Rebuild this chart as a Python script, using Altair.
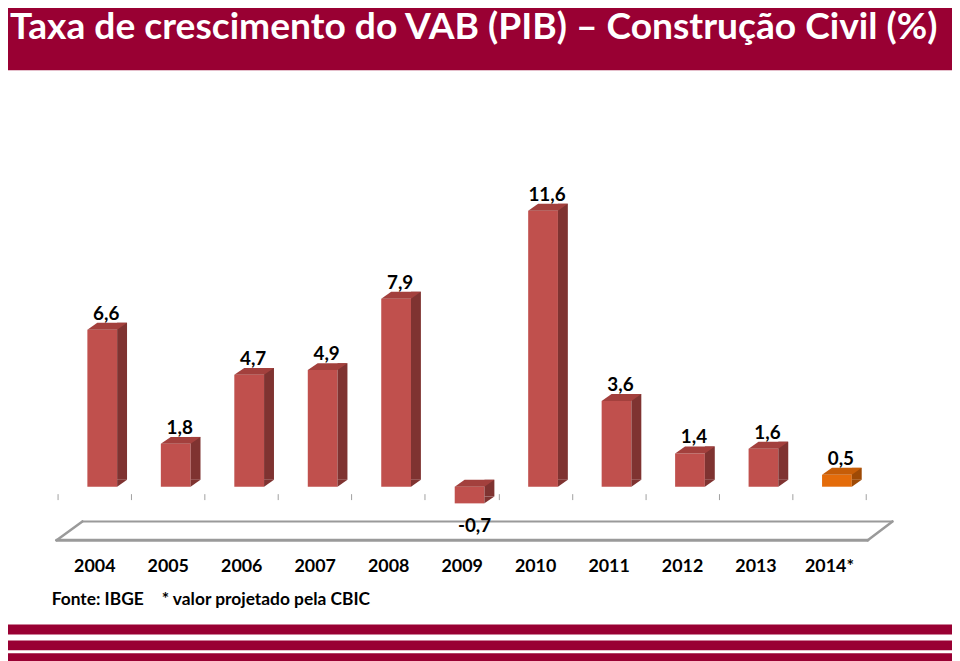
import altair as alt
import pandas as pd

# ---------------- data ----------------
years = ["2004", "2005", "2006", "2007", "2008", "2009", "2010", "2011", "2012", "2013", "2014*"]
growth = [6.6, 1.8, 4.7, 4.9, 7.9, -0.7, 11.6, 3.6, 1.4, 1.6, 0.5]
kinds = ["real"] * 10 + ["proj"]
title_text = "Taxa de crescimento do VAB (PIB) – Construção Civil (%)"
source_text = "Fonte: IBGE"
note_text = "* valor projetado pela CBIC"

df = pd.DataFrame({"year": years, "value": growth, "kind": kinds})
df["top"] = df["value"].clip(lower=0)
df["bot"] = df["value"].clip(upper=0)
df["label"] = df["value"].map(lambda v: f"{v:.1f}".replace(".", ","))

# ---------------- layout ----------------
PX_PER_UNIT = 24
W, H = 815, 319
ymin = -7 / PX_PER_UNIT
ymax = ymin + H / PX_PER_UNIT

RED = "#990033"
FRONT = ("#C0504D", "#E46C0A")
TOPC = ("#A3403D", "#C65D08")
SIDE = ("#7F3331", "#9E4A06")
FLOOR = "#9A9A9A"
LABEL_FONT = "Lato"

is_proj = alt.datum.kind == "proj"


def col(pair):
    return alt.condition(is_proj, alt.value(pair[1]), alt.value(pair[0]))


x_enc = alt.X(
    "year:N",
    sort=years,
    scale=alt.Scale(type="band", paddingInner=0, paddingOuter=0),
    axis=alt.Axis(
        title=None,
        domain=False,
        grid=False,
        tickBand="extent",
        tickSize=6,
        tickColor="#A0A0A0",
        tickWidth=1,
        labelAngle=0,
        labelFont=LABEL_FONT,
        labelFontWeight="bold",
        labelFontSize=18,
        labelColor="#000000",
        labelPadding=59,
    ),
)
yscale = alt.Scale(domain=[ymin, ymax], nice=False, zero=False)

base = alt.Chart(df)

side_rect = base.mark_bar(width=10, xOffset=28, yOffset=-7, y2Offset=-7).encode(
    x=x_enc,
    y=alt.Y("top:Q", scale=yscale, axis=None),
    y2="bot:Q",
    color=col(SIDE),
)
side_tri = base.mark_point(
    shape="M0,-0.7 L1,-0.7 L0,0 Z", size=400, filled=True, opacity=1, strokeWidth=0, xOffset=23
).encode(
    x=x_enc,
    y=alt.Y("bot:Q", scale=yscale, axis=None),
    color=col(SIDE),
)
top_face = base.mark_point(
    shape="M0,0 L3,0 L4,-0.7 L1,-0.7 Z", size=400, filled=True, opacity=1, strokeWidth=0, xOffset=-7
).encode(
    x=x_enc,
    y=alt.Y("top:Q", scale=yscale, axis=None),
    color=col(TOPC),
)
front = base.mark_bar(width=30, xOffset=8).encode(
    x=x_enc,
    y=alt.Y("top:Q", scale=yscale, axis=None),
    y2="bot:Q",
    color=col(FRONT),
)

pos_labels = base.transform_filter(alt.datum.value >= 0).mark_text(
    font=LABEL_FONT, fontWeight="bold", fontSize=19, color="#000000",
    baseline="alphabetic", align="center", xOffset=12, dy=-10,
).encode(x=x_enc, y=alt.Y("value:Q", scale=yscale, axis=None), text="label:N")

neg_labels = base.transform_filter(alt.datum.value < 0).mark_text(
    font=LABEL_FONT, fontWeight="bold", fontSize=19, color="#000000",
    baseline="alphabetic", align="center", xOffset=13, dy=29,
).encode(x=x_enc, y=alt.Y("value:Q", scale=yscale, axis=None), text="label:N")

one = alt.Data(values=[{"k": 1}])


def rect(x1, x2, y1, y2, color):
    return alt.Chart(one).mark_rect(color=color).encode(
        x=alt.value(x1), x2=alt.value(x2), y=alt.value(y1), y2=alt.value(y2)
    )


def rule(x1, y1, x2, y2, width):
    return alt.Chart(one).mark_rule(color=FLOOR, strokeWidth=width, strokeCap="round").encode(
        x=alt.value(x1), y=alt.value(y1), x2=alt.value(x2), y2=alt.value(y2)
    )


def text(s, x, y, size, color, font, weight="bold"):
    return alt.Chart(one).mark_text(
        text=s, font=font, fontSize=size, fontWeight=weight, color=color,
        align="left", baseline="alphabetic",
    ).encode(x=alt.value(x), y=alt.value(y))


header = rect(-60, 910, -180, -108, RED)
stripes = [
    rect(-60, 910, 451, 461, RED),
    rect(-60, 910, 467, 477, RED),
    rect(-60, 910, 480, 492, RED),
]
floor = [
    rule(25, 347, 842, 347, 2),
    rule(-1, 366, 817, 366, 3),
    rule(-1, 366, 25, 347, 2.5),
    rule(817, 366, 842, 347, 2.5),
]
title = text(title_text, -48, -140, 37.5, "#FFFFFF", LABEL_FONT)
source = text(source_text, -6, 431, 17.5, "#000000", LABEL_FONT)
note = text(note_text, 105, 431, 17.5, "#000000", LABEL_FONT)

chart = alt.layer(
    header, *stripes, *floor,
    front, side_rect, side_tri, top_face,
    pos_labels, neg_labels,
    title, source, note,
).properties(
    width=W,
    height=H,
    autosize=alt.AutoSizeParams(type="none"),
    padding={"left": 50, "top": 168, "right": 87, "bottom": 166},
    background="#FFFFFF",
).configure_view(strokeWidth=0)

chart.save("out.html", embed_options={"renderer": "svg", "actions": False})
